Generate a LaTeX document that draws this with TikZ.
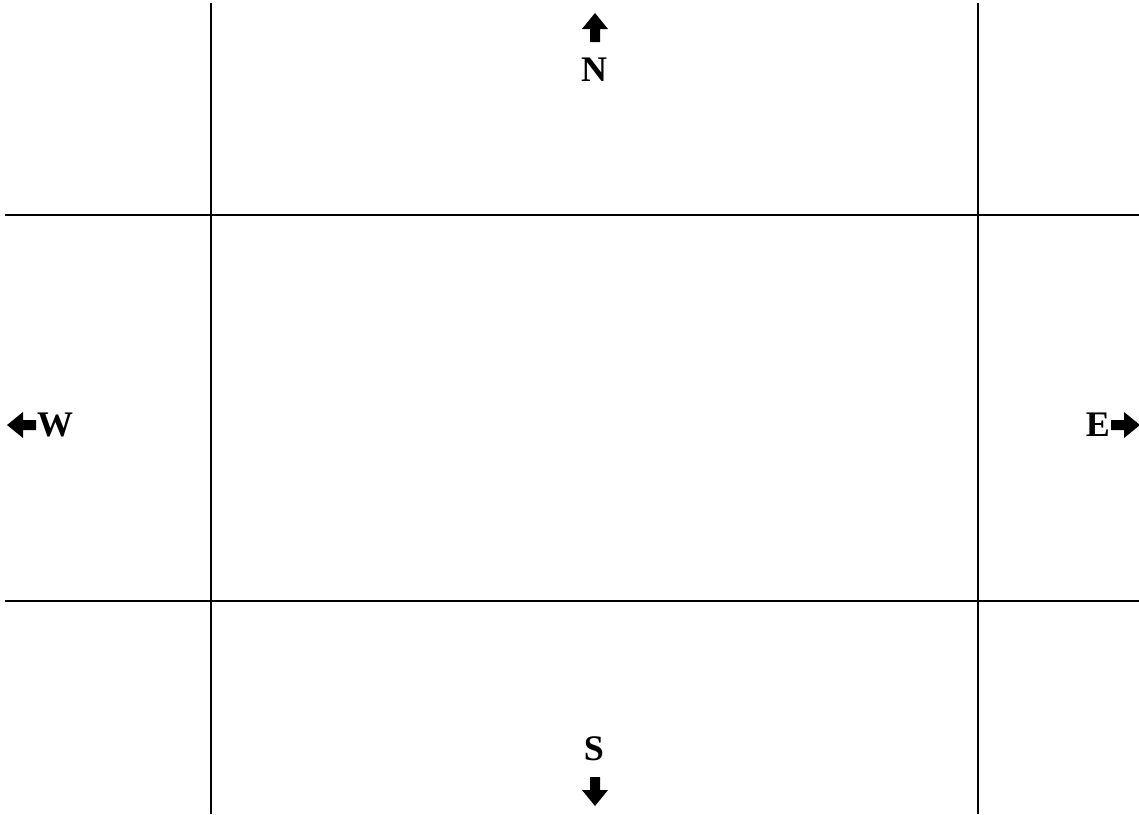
\documentclass[tikz,border=0pt]{standalone}
\usepackage{fontspec}
\setmainfont{Liberation Serif}
\tikzset{
  grid line/.style={line width=1.8pt, black},
  dirlabel/.style={font=\fontsize{36}{40}\selectfont\bfseries, inner sep=0pt},
  fatarrow/.pic={\fill[black] (0,-15) -- (13,1) -- (5,1) -- (5,14) -- (-5,14) -- (-5,1) -- (-13,1) -- cycle;}
}
\begin{document}
\begin{tikzpicture}[x=1pt,y=-1pt]
\useasboundingbox (0,0) rectangle (1139,814);
\coordinate (v1t) at (211,3);  \coordinate (v1b) at (211,814);
\coordinate (v2t) at (978,3);  \coordinate (v2b) at (978,814);
\coordinate (h1l) at (5,215);  \coordinate (h1r) at (1139,215);
\coordinate (h2l) at (5,601);  \coordinate (h2r) at (1139,601);
\draw[grid line] (v1t) -- (v1b);
\draw[grid line] (v2t) -- (v2b);
\draw[grid line] (h1l) -- (h1r);
\draw[grid line] (h2l) -- (h2r);
% North
\pic at (595,28) {fatarrow};
\node[dirlabel] (N) at (594,70) {N};
% South
\node[dirlabel] (S) at (594,749) {S};
\pic[rotate=180] at (595,791) {fatarrow};
% West
\pic[rotate=90] at (22,425) {fatarrow};
\node[dirlabel, anchor=west] (W) at (37,425) {W};
% East
\node[dirlabel, anchor=east] (E) at (1110,425) {E};
\pic[rotate=-90] at (1125,425) {fatarrow};
\end{tikzpicture}
\end{document}
